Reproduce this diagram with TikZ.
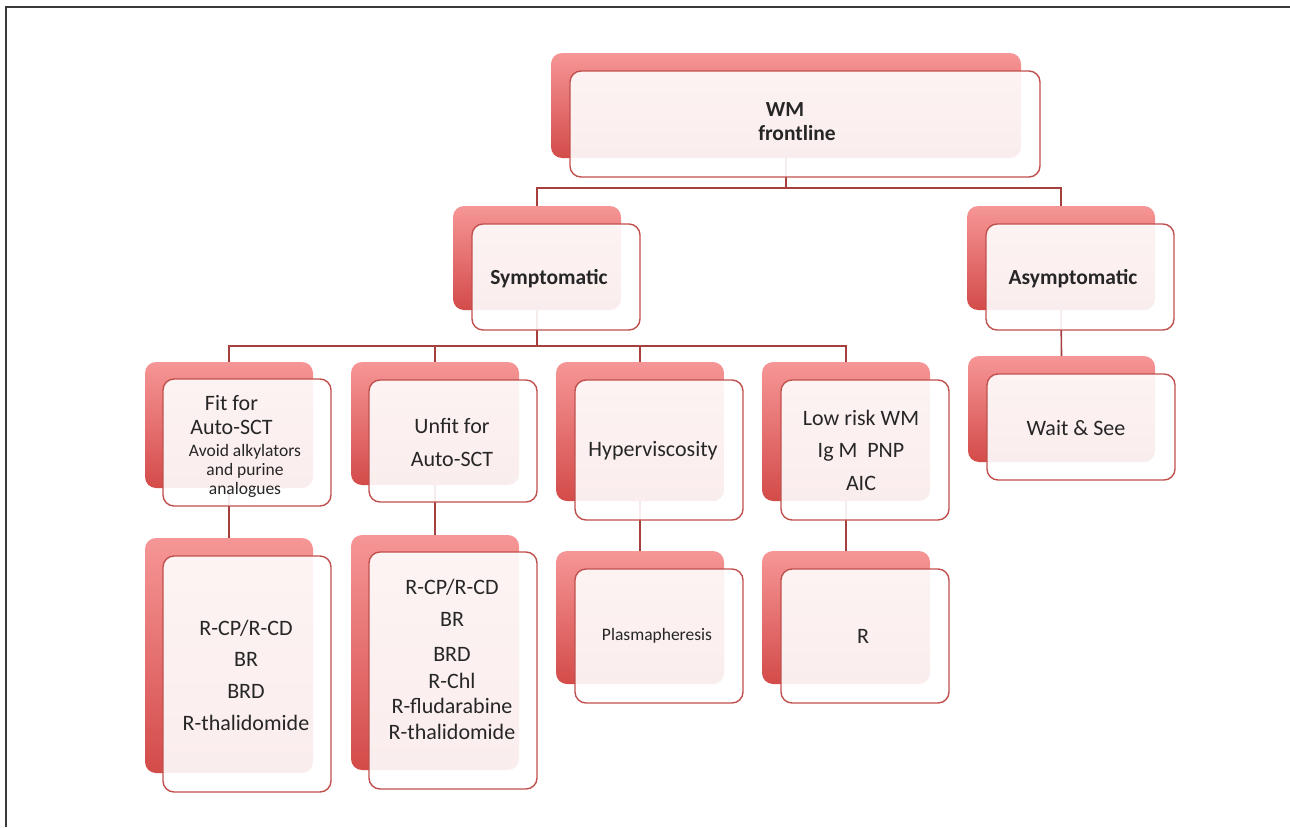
\documentclass[tikz,border=0pt]{standalone}
\usepackage{fontspec}
\setmainfont{Carlito}
\definecolor{bktop}{HTML}{F69696}
\definecolor{bkmid}{HTML}{EF8684}
\definecolor{bkbot}{HTML}{D34B49}
\definecolor{frontline}{HTML}{C0504D}
\definecolor{connc}{HTML}{A5403F}
\definecolor{framec}{HTML}{3A3A3A}
\definecolor{txt}{HTML}{262626}
\tikzset{
  backbox/.style 2 args={rounded corners=11pt, top color=bktop, middle color=bkmid, bottom color=bkbot, draw=none, minimum width=#1, minimum height=#2, inner sep=0pt},
  frontbox/.style 2 args={rounded corners=11pt, draw=frontline, line width=1.4pt, fill=white, fill opacity=0.9, minimum width=#1, minimum height=#2, inner sep=0pt},
  conn/.style={draw=connc, line width=1.6pt},
  lbl/.style={text=txt, align=center, inner sep=0pt, font=\fontsize{22}{24}\selectfont},
  lblb/.style={lbl, font=\fontsize{21.5}{24}\selectfont\bfseries},
  lbls/.style={lbl, font=\fontsize{17.5}{19}\selectfont},
}
\begin{document}
\begin{tikzpicture}[x=1pt,y=-1pt]
\useasboundingbox (0,0) rectangle (1290,827);
\draw[draw=framec, line width=1.8pt] (6,827) -- (6,7) -- (1290,7);
% back boxes
\node[backbox={470pt}{105pt}] (btop) at (786,105.5) {};
\node[backbox={168pt}{104pt}] (bsym) at (537,258) {};
\node[backbox={188pt}{104pt}] (basym) at (1061,258) {};
\node[backbox={168pt}{126pt}] (bfit) at (229,425) {};
\node[backbox={168pt}{123pt}] (bunfit) at (435,423.5) {};
\node[backbox={168pt}{139pt}] (bhyp) at (640,431.5) {};
\node[backbox={168pt}{139pt}] (blow) at (846,431.5) {};
\node[backbox={187pt}{106pt}] (bwait) at (1061.5,409) {};
\node[backbox={168pt}{235pt}] (bfitc) at (229,655.5) {};
\node[backbox={168pt}{235pt}] (bunfitc) at (435,652.5) {};
\node[backbox={168pt}{133pt}] (bplasma) at (640,617.5) {};
\node[backbox={168pt}{133pt}] (br) at (846,617.5) {};
% connectors
\draw[conn] (btop.south) -- ++(0,30) -| (bsym.north);
\draw[conn] (btop.south) -- ++(0,30) -| (basym.north);
\draw[conn] (bsym.south) -- ++(0,36) -| (bfit.north);
\draw[conn] (bsym.south) -- ++(0,36) -| (bunfit.north);
\draw[conn] (bsym.south) -- ++(0,36) -| (bhyp.north);
\draw[conn] (bsym.south) -- ++(0,36) -| (blow.north);
\draw[conn] (basym.south) -- (bwait.north);
\draw[conn] (bfit.south) -- (bfitc.north);
\draw[conn] (bunfit.south) -- (bunfitc.north);
\draw[conn] (bhyp.south) -- (bplasma.north);
\draw[conn] (blow.south) -- (br.north);
% front boxes
\node[frontbox={470pt}{106pt}] (ftop) at (805,124) {};
\node[frontbox={168pt}{106pt}] (fsym) at (556,277) {};
\node[frontbox={188pt}{106pt}] (fasym) at (1080,277) {};
\node[frontbox={168pt}{127pt}] (ffit) at (247,442.5) {};
\node[frontbox={168pt}{122pt}] (funfit) at (453,441) {};
\node[frontbox={168pt}{140pt}] (fhyp) at (659,450) {};
\node[frontbox={168pt}{140pt}] (flow) at (865,450) {};
\node[frontbox={188pt}{106pt}] (fwait) at (1081,427) {};
\node[frontbox={168pt}{236pt}] (ffitc) at (247,674) {};
\node[frontbox={168pt}{237pt}] (funfitc) at (453,670.5) {};
\node[frontbox={168pt}{134pt}] (fplasma) at (659,636) {};
\node[frontbox={168pt}{134pt}] (fr) at (865,636) {};
% labels
\node[lblb] (ttop) at (797,122) {WM\rule{24pt}{0pt}\\frontline};
\node[lblb] (tsym) at (549,279) {Symptomatic};
\node[lblb] (tasym) at (1073,279) {Asymptomatic};
\node[lbl] (tfit) at (231.5,415) {Fit for\\Auto-SCT};
\node[lbls] (tfitsub) at (245,470.5) {Avoid alkylators\\and purine\\analogues};
\node[lbl, font=\fontsize{22}{33}\selectfont] (tunfit) at (452,442) {Unfit for\\Auto-SCT};
\node[lbl] (thyp) at (653,451) {Hyperviscosity};
\node[lbl, font=\fontsize{22}{32.5}\selectfont] (tlow) at (861,450) {Low risk WM\\Ig M~~PNP\\AIC};
\node[lbl] (twait) at (1076,428) {Wait \& See};
\node[lbl, font=\fontsize{22}{31.7}\selectfont] (tfitc) at (246,675) {R-CP/R-CD\\BR\\BRD\\R-thalidomide};
\node[lbl, font=\fontsize{22}{25}\selectfont] (tunfitc) at (452,659) {R-CP/R-CD\\[7pt]BR\\[10pt]BRD\\[2pt]R-Chl\\R-fludarabine\\[1pt]R-thalidomide};
\node[lbls] (tplasma) at (657,636) {Plasmapheresis};
\node[lbl] (tr) at (863,636) {R};
\end{tikzpicture}
\end{document}
